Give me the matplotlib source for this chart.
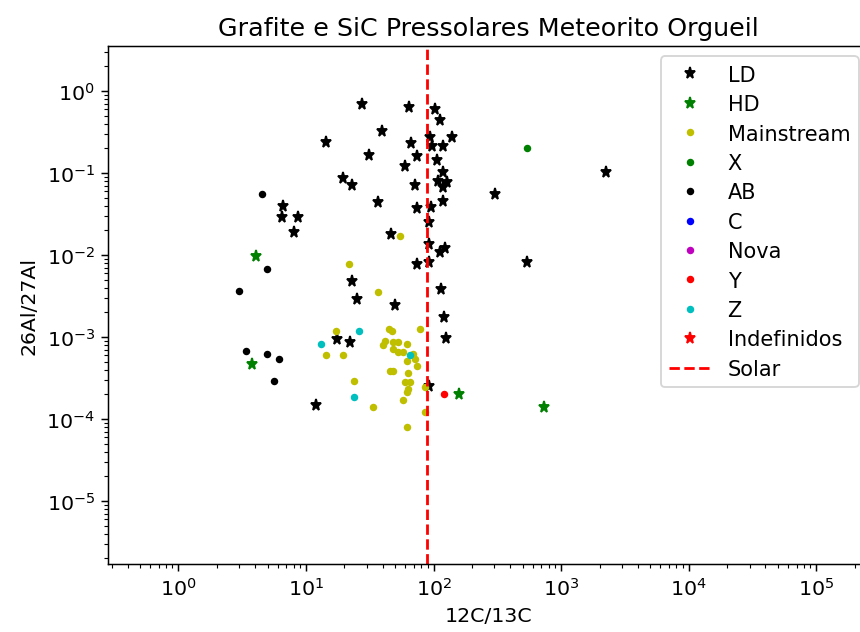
import matplotlib
matplotlib.use("Agg")
import matplotlib.pyplot as plt

# ---- data ----
ld_x = [27.4, 64.6, 102.8, 112.4, 39.3, 14.4, 93.9, 139.6, 66.3, 96.8, 118.7, 31.4,
        73.9, 105.6, 59.8, 118.1, 19.4, 22.9, 71.6, 109.1, 126.9, 118.1, 2237, 303,
        6.65, 6.46, 8.72, 8.07, 36.9, 118.1, 73.9, 95.1, 91.4, 46.5, 91.4, 112.4,
        123.0, 73.9, 93.0, 543, 23.1, 113.8, 25.0, 49.9, 120.8, 125.3, 17.4, 22.2,
        92.7, 11.9]
ld_y = [0.694, 0.638, 0.595, 0.447, 0.328, 0.239, 0.272, 0.272, 0.232, 0.213, 0.215, 0.167,
        0.163, 0.144, 0.123, 0.102, 0.0862, 0.0714, 0.0704, 0.0805, 0.0770, 0.0669, 0.1037, 0.0554,
        0.0399, 0.0288, 0.0288, 0.0189, 0.0439, 0.0456, 0.0374, 0.0382, 0.0253, 0.0180, 0.0136, 0.0108,
        0.0121, 0.00777, 0.00815, 0.00815, 0.00486, 0.00385, 0.00291, 0.00246, 0.00174, 0.000964, 0.000933, 0.000877,
        0.000255, 0.000146]

hd_x = [4.06, 3.80, 159.3, 734]
hd_y = [0.00980, 0.000469, 0.000199, 0.000139]

ms_x = [54.6, 21.9, 36.9, 17.1, 45.0, 47.3, 78.4, 14.4, 19.6, 41.7, 40.4, 48.4,
        53.0, 61.7, 48.4, 53.0, 58.0, 69.5, 71.6, 73.9, 61.7, 48.4, 45.6, 63.5,
        59.8, 65.5, 63.5, 61.7, 58.0, 33.7, 23.8, 85.8, 85.8, 62.5]
ms_y = [0.0172, 0.00777, 0.00357, 0.00117, 0.00125, 0.00117, 0.00125, 0.000603, 0.000603, 0.000901, 0.000798, 0.000877,
        0.000862, 0.000822, 0.000714, 0.000651, 0.000651, 0.000621, 0.000539, 0.000447, 0.000514, 0.000388, 0.000388, 0.000364,
        0.000285, 0.000280, 0.000232, 0.000213, 0.000172, 0.000139, 0.000293, 0.000244, 0.000121, 0.0000799]

x_x = [537]
x_y = [0.202]

ab_x = [4.50, 4.93, 2.99, 3.42, 4.93, 6.15, 5.62]
ab_y = [0.0554, 0.00665, 0.00367, 0.000675, 0.000621, 0.000532, 0.000293]

c_x, c_y = [], []
nova_x, nova_y = [], []

y_x = [120.8]
y_y = [0.000199]

z_x = [13.1, 26.1, 65.5, 23.8]
z_y = [0.000822, 0.00117, 0.000603, 0.000184]

ind_x, ind_y = [], []

solar_ratio = 89

x_major_ticks = [1e0, 1e1, 1e2, 1e3, 1e4, 1e5]
y_major_ticks = [1e-5, 1e-4, 1e-3, 1e-2, 1e-1, 1e0]

plt.rcParams['font.size'] = 11

DPI = 134.375
fig = plt.figure(figsize=(860 / DPI, 633 / DPI), dpi=DPI)
ax = fig.add_axes([108 / 860, 1 - 565 / 633, 761 / 860, 518 / 633])

ax.plot(ld_x, ld_y, 'k*', label='LD')
ax.plot(hd_x, hd_y, 'g*', label='HD')
ax.plot(ms_x, ms_y, 'y.', label='Mainstream')
ax.plot(x_x, x_y, 'g.', label='X')
ax.plot(ab_x, ab_y, 'k.', label='AB')
ax.plot(c_x, c_y, 'b.', label='C')
ax.plot(nova_x, nova_y, 'm.', label='Nova')
ax.plot(y_x, y_y, 'r.', label='Y')
ax.plot(z_x, z_y, 'c.', label='Z')
ax.plot(ind_x, ind_y, 'r*', label='Indefinidos')
ax.axvline(solar_ratio, color='r', linestyle='--', label='Solar')

ax.set_xscale('log')
ax.set_yscale('log')
ax.set_xticks(x_major_ticks)
ax.set_yticks(y_major_ticks)
ax.set_xlim(0.281, 2.59e5)
ax.set_ylim(1.7e-6, 3.54)

ax.set_title('Grafite e SiC Pressolares Meteorito Orgueil', fontsize=13.6)
ax.set_xlabel('12C/13C')
ax.set_ylabel('26Al/27Al')
ax.legend(loc='upper right', fontsize=11.2, labelspacing=0.45)

fig.savefig('out.png', dpi=DPI)
